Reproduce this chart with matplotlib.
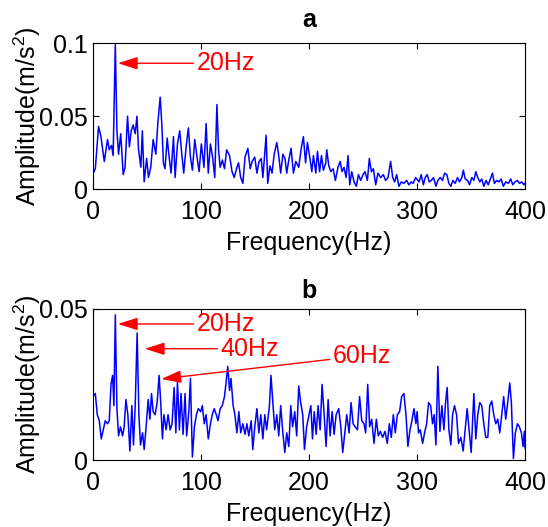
import matplotlib
matplotlib.use('Agg')
import matplotlib.pyplot as plt

plt.rcParams['font.family'] = ['Liberation Sans', 'DejaVu Sans']
plt.rcParams['mathtext.fontset'] = 'custom'
plt.rcParams['mathtext.rm'] = 'Liberation Sans'
plt.rcParams['mathtext.it'] = 'Liberation Sans:italic'

# panel a spectrum
freq_a = [0, 2.5, 5.5, 7.7, 10.8, 13.8, 15.4, 17.5, 19, 21,
          22.5, 24, 26, 28.3, 30, 32.3, 34, 35.7, 37.5, 39.4,
          41, 42.5, 44.6, 46, 47.7, 50, 51.7, 53.8, 56, 58.5,
          60.3, 62.5, 64, 65.5, 67, 69, 70.8, 72.6, 74.8, 76.3,
          78.5, 80.6, 82.5, 84.3, 86.5, 88.6, 90.5, 92.3, 94.5, 96.6,
          98.5, 100.6, 103, 105, 107, 109, 111, 113, 115, 116.5,
          118, 120, 122, 124, 126.7, 129, 131, 133.5, 135, 137,
          139, 141, 143.6, 145.8, 147.6, 150, 152, 154, 156, 157.5,
          159, 160.5, 162, 164, 166, 168, 170.4, 172, 174, 176,
          178, 179.6, 181.5, 183.6, 185.8, 188, 190.7, 193, 195, 197,
          198.7, 201.3, 202.8, 204.3, 206.5, 208, 210, 211.7, 213.5, 215.7,
          216.6, 218.5, 220.3, 222.5, 224.6, 227, 229, 230.8, 232.6, 234.5,
          236.3, 237.9, 239.7, 241.9, 244, 245.9, 248, 250.2, 252, 254.2,
          256, 257.9, 259.7, 261.9, 264, 266.5, 269, 271, 273.3, 275.7,
          277.6, 279.4, 281.3, 283.4, 285.6, 288, 290.5, 292.6, 294.8, 296.6,
          298.8, 302, 304, 306, 307.7, 309.6, 311.4, 313.3, 315.4, 317.6,
          319.4, 321.6, 323.7, 325.6, 327.7, 329.6, 331.4, 333.3, 335.4, 337.6,
          339.4, 341.6, 343, 344.7, 346.8, 348.7, 350.8, 352.7, 354.5, 356.3,
          358.2, 360, 361.9, 364, 366, 368, 369.9, 371.7, 373.9, 376,
          377.9, 380, 382.2, 384.6, 386.8, 388.7, 390.8, 393, 395, 397,
          399, 400]
amp_a = [0.010, 0.014, 0.043, 0.036, 0.019, 0.034, 0.027, 0.030, 0.023, 0.099,
         0.040, 0.024, 0.038, 0.010, 0.015, 0.050, 0.029, 0.040, 0.044, 0.038,
         0.050, 0.027, 0.015, 0.040, 0.005, 0.021, 0.008, 0.015, 0.034, 0.024,
         0.045, 0.063, 0.045, 0.018, 0.014, 0.035, 0.022, 0.011, 0.036, 0.008,
         0.031, 0.040, 0.024, 0.011, 0.029, 0.042, 0.022, 0.013, 0.034, 0.022,
         0.012, 0.031, 0.015, 0.045, 0.011, 0.031, 0.022, 0.008, 0.058, 0.027,
         0.015, 0.020, 0.014, 0.027, 0.023, 0.012, 0.008, 0.015, 0.018, 0.008,
         0.004, 0.022, 0.028, 0.014, 0.019, 0.022, 0.011, 0.019, 0.021, 0.008,
         0.022, 0.037, 0.004, 0.016, 0.011, 0.024, 0.032, 0.024, 0.011, 0.024,
         0.021, 0.011, 0.020, 0.028, 0.011, 0.019, 0.015, 0.028, 0.036, 0.018,
         0.032, 0.020, 0.012, 0.023, 0.011, 0.026, 0.012, 0.023, 0.013, 0.018,
         0.027, 0.016, 0.012, 0.014, 0.006, 0.015, 0.019, 0.012, 0.015, 0.008,
         0.023, 0.003, 0.012, 0.005, 0.002, 0.010, 0.006, 0.010, 0.012, 0.006,
         0.021, 0.012, 0.014, 0.003, 0.011, 0.008, 0.010, 0.006, 0.008, 0.019,
         0.008, 0.005, 0.010, 0.002, 0.005, 0.004, 0.006, 0.003, 0.005, 0.004,
         0.008, 0.005, 0.010, 0.003, 0.008, 0.010, 0.005, 0.006, 0.008, 0.002,
         0.006, 0.008, 0.006, 0.011, 0.010, 0.004, 0.002, 0.006, 0.004, 0.008,
         0.005, 0.008, 0.013, 0.007, 0.006, 0.003, 0.008, 0.006, 0.012, 0.008,
         0.005, 0.007, 0.002, 0.006, 0.003, 0.007, 0.011, 0.004, 0.006, 0.005,
         0.007, 0.002, 0.005, 0.004, 0.007, 0.003, 0.005, 0.006, 0.004, 0.005,
         0.003, 0.004]

# panel b spectrum
freq_b = [0, 2.5, 4.3, 6.2, 8, 9.8, 11.7, 13.8, 15.4, 17,
          18.5, 19.7, 21, 22.5, 24, 25.8, 27.7, 29.2, 30.8, 32.6,
          34.5, 36.3, 37.8, 39.4, 41.2, 42.8, 44.3, 46.2, 47.7, 49.5,
          51.4, 53, 54.5, 56, 57.8, 59.7, 61.5, 63, 64.6, 66,
          68, 69.8, 71.7, 73.5, 75.4, 77, 78.5, 80.3, 81.8, 83.7,
          85.5, 87, 89, 90.5, 92.3, 94.2, 96, 97.8, 100, 101.5,
          103.3, 105, 107, 109, 110.7, 112.5, 114.4, 116, 118, 120,
          122, 123.6, 125, 126.7, 128, 130, 131.6, 133.5, 135.3, 137,
          139, 141, 142.7, 144.5, 146.7, 148.2, 150, 152, 153.8, 155.6,
          157.5, 159.3, 161, 163.6, 165, 166.7, 168.5, 170.4, 172.2, 174,
          176, 177.8, 179.6, 181.5, 183.3, 185, 187, 188.8, 190.7, 192.5,
          194.4, 196, 198, 201.9, 203.4, 205, 206.8, 208.6, 210.5, 212.3,
          214.2, 216, 217.9, 219.7, 221.6, 223.4, 225.3, 227.7, 229.6, 231.4,
          233.3, 235.1, 237.3, 239.1, 241, 242.8, 245, 247, 249, 251.1,
          252.6, 254.5, 256.3, 258.2, 260.3, 262.5, 264.3, 266.2, 268.3, 270.5,
          272.6, 274.5, 276.3, 278.2, 280, 281.9, 284, 285.9, 288, 289.9,
          291.7, 293.6, 295.4, 297.3, 299.1, 300.2, 301.5, 303.1, 305.3, 307.1,
          309, 310.8, 312.7, 314.5, 316, 317.6, 319.4, 321.3, 323.1, 325,
          326.5, 328, 329.6, 331.4, 333, 334.8, 336.7, 338.5, 340.7, 342.8,
          344.7, 346.5, 348.3, 350.2, 352.7, 354.5, 356.3, 358.2, 360, 361.9,
          363.7, 365.6, 367.4, 369.3, 371.1, 373, 374.8, 376.7, 378.5, 380.3,
          382.2, 384, 385.9, 387.4, 389.3, 391.1, 393, 394.8, 396.7, 398.2,
          399.4, 400]
amp_b = [0.021, 0.022, 0.015, 0.013, 0.007, 0.010, 0.013, 0.012, 0.013, 0.025,
         0.028, 0.018, 0.048, 0.017, 0.008, 0.011, 0.008, 0.011, 0.020, 0.015,
         0.003, 0.018, 0.005, 0.018, 0.042, 0.015, 0.005, 0.009, 0.0035, 0.011,
         0.020, 0.0135, 0.022, 0.016, 0.015, 0.019, 0.028, 0.019, 0.007, 0.015,
         0.010, 0.015, 0.010, 0.012, 0.024, 0.009, 0.026, 0.010, 0.022, 0.0085,
         0.022, 0.008, 0.016, 0.027, 0.001, 0.011, 0.015, 0.017, 0.016, 0.018,
         0.012, 0.015, 0.007, 0.012, 0.015, 0.017, 0.015, 0.013, 0.017, 0.018,
         0.021, 0.026, 0.031, 0.023, 0.027, 0.018, 0.015, 0.009, 0.016, 0.009,
         0.012, 0.0085, 0.012, 0.008, 0.013, 0.0035, 0.011, 0.017, 0.009, 0.015,
         0.007, 0.015, 0.010, 0.018, 0.028, 0.019, 0.010, 0.015, 0.008, 0.018,
         0.009, 0.0025, 0.009, 0.0045, 0.018, 0.011, 0.016, 0.008, 0.0245, 0.019,
         0.015, 0.0035, 0.011, 0.018, 0.007, 0.016, 0.0085, 0.018, 0.010, 0.025,
         0.015, 0.0045, 0.020, 0.008, 0.016, 0.0085, 0.015, 0.017, 0.011, 0.0025,
         0.009, 0.015, 0.009, 0.019, 0.012, 0.011, 0.010, 0.021, 0.013, 0.012,
         0.009, 0.025, 0.011, 0.0135, 0.0055, 0.0135, 0.008, 0.0095, 0.0075, 0.0095,
         0.0055, 0.012, 0.0075, 0.015, 0.009, 0.015, 0.016, 0.021, 0.022, 0.015,
         0.0045, 0.010, 0.013, 0.017, 0.012, 0.016, 0.009, 0.010, 0.0055, 0.009,
         0.012, 0.019, 0.018, 0.012, 0.015, 0.005, 0.031, 0.0095, 0.018, 0.010,
         0.019, 0.024, 0.010, 0.005, 0.015, 0.018, 0.015, 0.0055, 0.0075, 0.003,
         0.010, 0.017, 0.010, 0.0025, 0.022, 0.007, 0.015, 0.019, 0.018, 0.012,
         0.0075, 0.0075, 0.018, 0.0195, 0.015, 0.012, 0.0135, 0.009, 0.015, 0.021,
         0.0135, 0.019, 0.0255, 0.019, 0.0005, 0.009, 0.012, 0.011, 0.009, 0.0045,
         0.0095, 0.004]

fig = plt.figure(figsize=(5.48, 5.27), dpi=100)
ax1 = fig.add_axes([0.169, 0.641, 0.789, 0.277])
ax2 = fig.add_axes([0.169, 0.127, 0.789, 0.287])

fs = 18
arrow = dict(arrowstyle='-|>,head_length=1.1,head_width=0.35', color='red',
             lw=1, mutation_scale=11, shrinkA=0, shrinkB=0)

for ax, f, a, ymax, title, tpad in [(ax1, freq_a, amp_a, 0.1, 'a', 12),
                                    (ax2, freq_b, amp_b, 0.05, 'b', 8)]:
    ax.plot(f, a, color='#0000ff', lw=1.1)
    ax.set_xlim(0, 400)
    ax.set_ylim(0, ymax)
    ax.set_xticks([0, 100, 200, 300, 400])
    ax.tick_params(direction='in', length=4, top=True, right=True,
                   labelsize=fs)
    ax.tick_params(axis='x', pad=8)
    ax.set_xlabel('Frequency(Hz)', fontsize=fs, labelpad=5)
    ax.set_ylabel('Amplitude(m/s$^2$)', fontsize=fs)
    ax.yaxis.set_label_coords(-0.115, 0.5)
    ax.set_title(title, fontsize=fs, fontweight='bold', pad=tpad)

ax1.set_yticks([0, 0.05, 0.1])
ax1.set_yticklabels(['0', '0.05', '0.1'])
ax2.set_yticks([0, 0.05])
ax2.set_yticklabels(['0', '0.05'])

ax1.annotate('20Hz', xy=(23.4, 0.0863), xytext=(96, 0.0863), color='red',
             fontsize=fs, va='center', ha='left', arrowprops=arrow)
ax2.annotate('20Hz', xy=(23.4, 0.045), xytext=(96, 0.045), color='red',
             fontsize=fs, va='center', ha='left', arrowprops=arrow)
ax2.annotate('40Hz', xy=(48.3, 0.0368), xytext=(118, 0.0368), color='red',
             fontsize=fs, va='center', ha='left', arrowprops=arrow)
ax2.annotate('60Hz', xy=(63.6, 0.0268), xytext=(222, 0.0345), color='red',
             fontsize=fs, va='center', ha='left', arrowprops=arrow)

plt.savefig('out.png', dpi=100)
